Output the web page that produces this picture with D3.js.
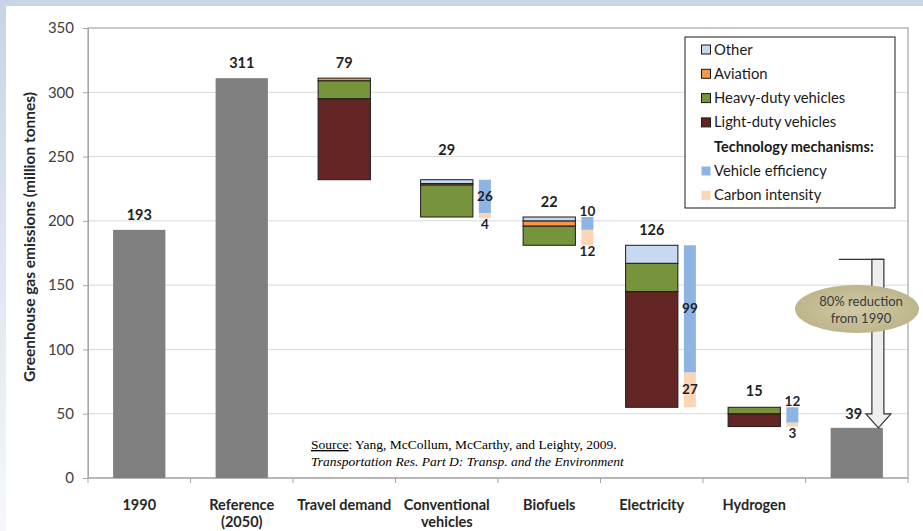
<!DOCTYPE html>
<html>
<head>
<meta charset="utf-8">
<script src="https://cdn.jsdelivr.net/npm/d3@7"></script>
<style>
  html, body { margin: 0; padding: 0; background: #ffffff; }
  svg { display: block; }
  .sans { font-family: Lato, "Open Sans", sans-serif; }
  .serif { font-family: "Liberation Serif", "Times New Roman", serif; }
</style>
</head>
<body>
<svg id="chart" width="923" height="531"></svg>
<script>
// Categories along the x axis (last column is the 2050 target bar, unlabeled)
const categories = ["1990", "Reference (2050)", "Travel demand", "Conventional vehicles",
                    "Biofuels", "Electricity", "Hydrogen", "Target"];
const categoryLabels = [["1990"], ["Reference", "(2050)"], ["Travel demand"],
                        ["Conventional", "vehicles"], ["Biofuels"], ["Electricity"], ["Hydrogen"], []];

// Solid gray totals (1990 level, 2050 reference, 2050 outcome)
const totalBars = [193, 311, null, null, null, null, null, 39];

// Emission reductions by sector for each strategy (million tonnes)
const lightDuty = [0, 0, 63, 0, 0, 90, 10, 0];
const heavyDuty = [0, 0, 14, 25, 15, 22, 5, 0];
const aviation  = [0, 0, 2, 1, 4, 0, 0, 0];
const other     = [0, 0, 0, 3, 3, 14, 0, 0];

// Value shown above each column
const columnLabels = [193, 311, 79, 29, 22, 126, 15, 39];

// Reductions split by technology mechanism
const vehicleEfficiency = [null, null, null, 26, 10, 99, 12, null];
const carbonIntensity   = [null, null, null, 4, 12, 27, 3, null];

const yTicks = [0, 50, 100, 150, 200, 250, 300, 350];

const sectorKeys = ["Light-duty vehicles", "Heavy-duty vehicles", "Aviation", "Other"];
const sectorSeries = [lightDuty, heavyDuty, aviation, other];
const sectorColors = ["#632523", "#77933c", "#f79646", "#c6d9f1"];
const techColors = {eff: "#8db4e2", carbon: "#fcd5b5"};

// Where each mechanism value label sits relative to its segment
const effLabelPlace    = [null, null, null, "in", "above", "in", "above", null];
const carbonLabelPlace = [null, null, null, "below", "below", "in", "below", null];
// Extra lift for column labels
const labelLift = [10, 10, 10, 25, 10, 10, 11, 9];

const svg = d3.select("#chart").attr("class", "sans");
const W = 923, H = 531;
const m = {left: 88, right: 15, top: 28, bottom: 53};
const plotW = W - m.left - m.right, plotH = H - m.top - m.bottom;

// Slide frame
const defs = svg.append("defs");
const grad = defs.append("linearGradient").attr("id", "leftBand")
  .attr("x1", 0).attr("y1", 0).attr("x2", 0).attr("y2", 1);
grad.append("stop").attr("offset", "0%").attr("stop-color", "#c7d4e5");
grad.append("stop").attr("offset", "100%").attr("stop-color", "#f6f8fb");
svg.append("rect").attr("x", 0).attr("y", 0).attr("width", 6).attr("height", H).attr("fill", "url(#leftBand)");
svg.append("rect").attr("x", 0).attr("y", 0).attr("width", W).attr("height", 6).attr("fill", "#c7d4e5");

const x = d3.scaleBand().domain(d3.range(categories.length)).range([m.left, m.left + plotW]).padding(0);
const y = d3.scaleLinear().domain([0, 350]).range([m.top + plotH, m.top]);

const barW = x.bandwidth() * 0.51;
const techW = 12, techGap = 6;
const barX = i => x(i) + (x.bandwidth() - barW) / 2;
const techX = i => barX(i) + barW + techGap;

// Gridlines
svg.append("g").selectAll("line").data(yTicks.filter(t => t > 0 && t < 350)).join("line")
  .attr("x1", m.left).attr("x2", m.left + plotW)
  .attr("y1", d => y(d)).attr("y2", d => y(d))
  .attr("stroke", "#d9d9d9").attr("stroke-width", 1);

// Plot border
svg.append("rect").attr("x", m.left).attr("y", m.top).attr("width", plotW).attr("height", plotH)
  .attr("fill", "none").attr("stroke", "#a6a6a6").attr("stroke-width", 1.2);

// Y axis
const yAxis = d3.axisLeft(y).tickValues(yTicks).tickSize(5).tickPadding(9);
const gy = svg.append("g").attr("transform", `translate(${m.left},0)`).call(yAxis);
gy.attr("font-family", null).attr("font-size", null);
gy.select(".domain").attr("stroke", "#a6a6a6");
gy.selectAll(".tick line").attr("stroke", "#a6a6a6");
gy.selectAll(".tick text").attr("fill", "#404040").style("font-size", "15px");

// X axis with boundary ticks
const gx = svg.append("g").attr("transform", `translate(0,${m.top + plotH})`);
gx.append("line").attr("x1", m.left).attr("x2", m.left + plotW).attr("stroke", "#a6a6a6").attr("stroke-width", 1.2);
gx.selectAll("line.tk").data(d3.range(categories.length + 1)).join("line").attr("class", "tk")
  .attr("x1", i => m.left + i * x.bandwidth()).attr("x2", i => m.left + i * x.bandwidth())
  .attr("y1", 0).attr("y2", 5).attr("stroke", "#a6a6a6");
gx.selectAll("text").data(categoryLabels).join("text")
  .attr("text-anchor", "middle").attr("fill", "#262626")
  .style("font-size", "14.5px").style("font-weight", "bold")
  .each(function(lines, i) {
    const t = d3.select(this);
    lines.forEach((ln, k) => t.append("tspan").attr("x", x(i) + x.bandwidth() / 2)
      .attr("y", 32 + k * 17).text(ln));
  });

// Y axis title
svg.append("text")
  .attr("transform", `translate(35,${237}) rotate(-90)`)
  .attr("text-anchor", "middle").attr("fill", "#262626")
  .style("font-size", "15.5px").style("font-weight", "bold")
  .text("Greenhouse gas emissions (million tonnes)");

// Waterfall levels: each strategy starts where the previous one ended
const tops = [], bottoms = [];
let level = null;
categories.forEach((c, i) => {
  if (totalBars[i] != null) {
    tops[i] = totalBars[i]; bottoms[i] = 0; level = totalBars[i];
  } else {
    const total = d3.sum(sectorSeries, s => s[i]);
    tops[i] = level; bottoms[i] = level - total; level = bottoms[i];
  }
});

const gBars = svg.append("g");
// Gray totals
gBars.selectAll("rect.total").data(d3.range(categories.length).filter(i => totalBars[i] != null)).join("rect")
  .attr("class", "total")
  .attr("x", i => barX(i)).attr("width", barW)
  .attr("y", i => y(totalBars[i])).attr("height", i => y(0) - y(totalBars[i]))
  .attr("fill", "#808080");

// Stacked sector reductions
const stepIdx = d3.range(categories.length).filter(i => totalBars[i] == null);
stepIdx.forEach(i => {
  let base = bottoms[i];
  sectorSeries.forEach((s, k) => {
    const v = s[i];
    if (!v) return;
    gBars.append("rect")
      .attr("x", barX(i)).attr("width", barW)
      .attr("y", y(base + v)).attr("height", y(base) - y(base + v))
      .attr("fill", sectorColors[k]).attr("stroke", "#1a1a1a").attr("stroke-width", 1);
    base += v;
  });
});

// Technology mechanism bars
const labelFont = sel => sel.attr("text-anchor", "middle").attr("fill", "#1f1f2e")
  .style("font-size", "13.5px").style("font-weight", "bold");
stepIdx.filter(i => vehicleEfficiency[i] != null).forEach(i => {
  const t0 = tops[i], t1 = t0 - vehicleEfficiency[i], t2 = t1 - carbonIntensity[i];
  const cx = techX(i) + techW / 2;
  gBars.append("rect").attr("x", techX(i)).attr("width", techW)
    .attr("y", y(t0)).attr("height", y(t1) - y(t0)).attr("fill", techColors.eff);
  gBars.append("rect").attr("x", techX(i)).attr("width", techW)
    .attr("y", y(t1)).attr("height", y(t2) - y(t1)).attr("fill", techColors.carbon);
  const place = (p, a, b) => p === "in" ? (y(a) + y(b)) / 2 + 4.5 : p === "above" ? y(a) - 1 : y(b) + 11;
  svg.append("text").call(labelFont).attr("x", cx).attr("y", place(effLabelPlace[i], t0, t1)).text(vehicleEfficiency[i]);
  svg.append("text").call(labelFont).attr("x", cx).attr("y", place(carbonLabelPlace[i], t1, t2)).text(carbonIntensity[i]);
});

// Column value labels
svg.append("g").selectAll("text").data(columnLabels).join("text")
  .attr("x", (d, i) => x(i) + x.bandwidth() / 2 - (i === categories.length - 1 ? 3 : 0))
  .attr("y", (d, i) => y(tops[i]) - labelLift[i])
  .attr("text-anchor", "middle").attr("fill", "#1f1f1f")
  .style("font-size", "14.5px").style("font-weight", "bold")
  .text(d => d);

// Source note
const src = svg.append("g").attr("class", "serif").style("font-size", "13.5px").attr("fill", "#000");
const s1 = src.append("text").attr("x", 311).attr("y", 449);
s1.append("tspan").attr("text-decoration", "underline").text("Source");
s1.append("tspan").text(": Yang, McCollum, McCarthy, and Leighty, 2009.");
src.append("text").attr("x", 311).attr("y", 466).style("font-style", "italic")
  .text("Transportation Res. Part D: Transp. and the Environment");

// Reduction arrow from the 1990 level down to the 2050 outcome
const last = categories.length - 1;
const arrowTop = y(170), arrowTip = y(totalBars[last]);
const shaftR = barX(last) + barW + 1, shaftL = shaftR - 12;
const headL = shaftL - 6, headR = shaftR + 7, tipX = (headL + headR) / 2;
svg.append("line").attr("x1", shaftL - 33).attr("x2", shaftR).attr("y1", arrowTop).attr("y2", arrowTop)
  .attr("stroke", "#333").attr("stroke-width", 1.2);
svg.append("path")
  .attr("d", d3.line()([[shaftL, arrowTop], [shaftR, arrowTop], [shaftR, arrowTip - 14], [headR, arrowTip - 14],
    [tipX, arrowTip], [headL, arrowTip - 14], [shaftL, arrowTip - 14]]) + "Z")
  .attr("fill", "#eeeeee").attr("stroke", "#333").attr("stroke-width", 1.2);

// Callout
const eg = defs.append("radialGradient").attr("id", "calloutFill");
eg.append("stop").attr("offset", "0%").attr("stop-color", "#cfc9a6");
eg.append("stop").attr("offset", "100%").attr("stop-color", "#bdb68c");
svg.append("ellipse").attr("cx", 857).attr("cy", 309).attr("rx", 62).attr("ry", 24)
  .attr("fill", "url(#calloutFill)");
svg.append("text").attr("x", 861).attr("y", 306).attr("text-anchor", "middle").attr("fill", "#3a3a3a")
  .style("font-size", "13px").text("80% reduction");
svg.append("text").attr("x", 861).attr("y", 323).attr("text-anchor", "middle").attr("fill", "#3a3a3a")
  .style("font-size", "13px").text("from 1990");

// Legend
const lg = svg.append("g");
lg.append("rect").attr("x", 685).attr("y", 37).attr("width", 210).attr("height", 171)
  .attr("fill", "#fff").attr("stroke", "#1a1a1a").attr("stroke-width", 1);
const legendItems = [
  {label: "Other", color: sectorColors[3], border: true},
  {label: "Aviation", color: sectorColors[2], border: true},
  {label: "Heavy-duty vehicles", color: sectorColors[1], border: true},
  {label: "Light-duty vehicles", color: sectorColors[0], border: true},
  {label: "Technology mechanisms:", header: true},
  {label: "Vehicle efficiency", color: techColors.eff},
  {label: "Carbon intensity", color: techColors.carbon}
];
legendItems.forEach((d, k) => {
  const cy = 49.5 + k * 24.3;
  if (!d.header) {
    lg.append("rect").attr("x", 701.5).attr("y", cy - 4.5).attr("width", 9).attr("height", 9)
      .attr("fill", d.color).attr("stroke", d.border ? "#1a1a1a" : "none").attr("stroke-width", 1);
  }
  lg.append("text").attr("x", 714).attr("y", cy + 5).attr("fill", "#1a1a1a")
    .style("font-size", d.header ? "14.5px" : "14.8px").style("font-weight", d.header ? "bold" : "normal").text(d.label);
});
</script>
</body>
</html>
